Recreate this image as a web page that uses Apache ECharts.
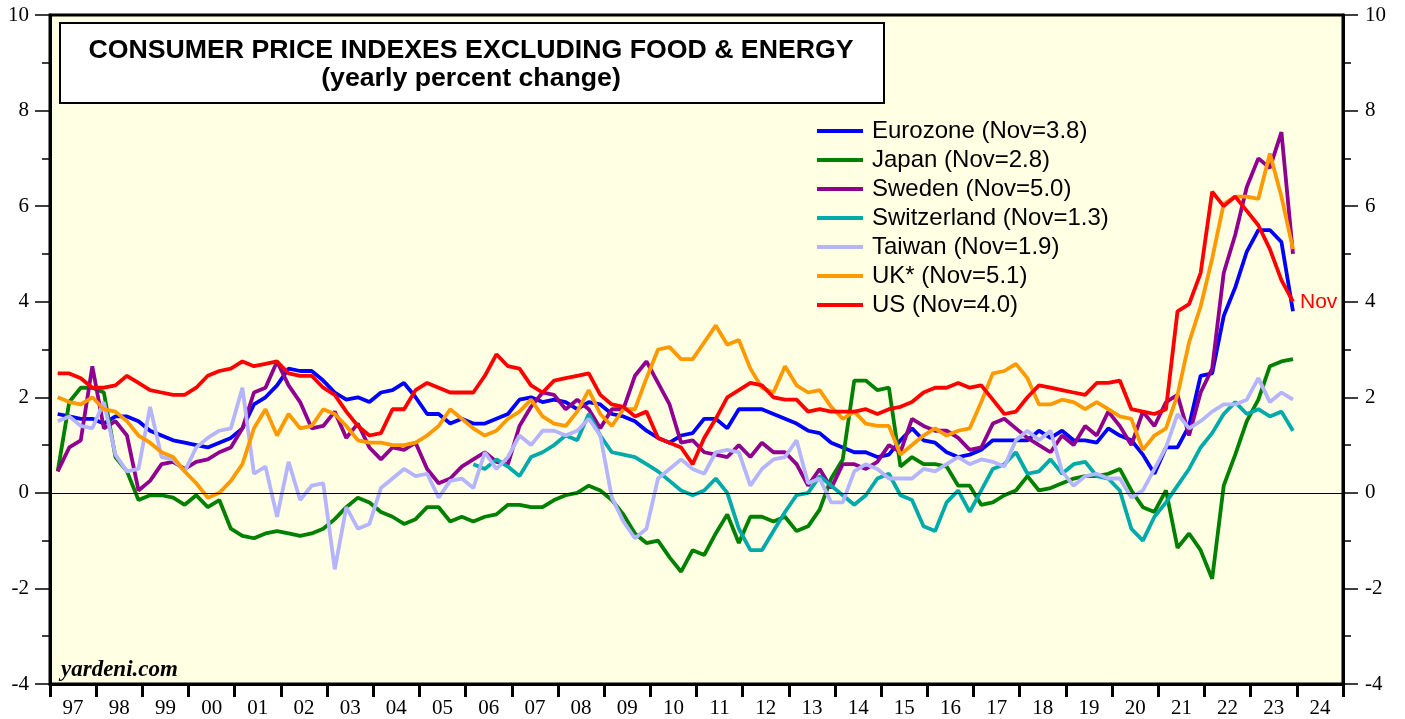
<!DOCTYPE html>
<html lang="en">
  <head>
    <meta charset="utf-8" />
    <title>Consumer price indexes excluding food &amp; energy</title>
    <script src="https://cdn.jsdelivr.net/npm/echarts@6/dist/echarts.min.js"></script>
    <style>
      * {
        margin: 0;
        padding: 0;
      }
      html,
      body,
      #chart {
        width: 100%;
        height: 100%;
        overflow: hidden;
        background: #fff;
      }
    </style>
  </head>
  <body>
    <div id="chart"></div>
    <script>
      // x axis: one band per year, 1997 .. 2024
      var yearLabels = ["97", "98", "99", "00", "01", "02", "03", "04", "05", "06",
        "07", "08", "09", "10", "11", "12", "13", "14", "15", "16",
        "17", "18", "19", "20", "21", "22", "23", "24"];

      // readings every 3 months, Feb 1997 .. Nov 2023 (yearly % change)
      var eurozone = [1.65, 1.6, 1.55, 1.55, 1.45, 1.6, 1.6, 1.5, 1.3, 1.2, 1.1, 1.05, 1.0, 0.95, 1.05, 1.15, 1.35, 1.85, 2.0, 2.25, 2.6, 2.55, 2.55, 2.35, 2.1, 1.95, 2.0, 1.9, 2.1, 2.15, 2.3, 2.0, 1.65, 1.65,
        1.45, 1.55, 1.45, 1.45, 1.55, 1.65, 1.95, 2.0, 1.9, 1.95, 1.9, 1.75, 1.9, 1.85, 1.65, 1.6, 1.5, 1.3, 1.15, 1.05, 1.2, 1.25, 1.55, 1.55, 1.35, 1.75, 1.75, 1.75, 1.65, 1.55, 1.45,
        1.3, 1.25, 1.05, 0.95, 0.85, 0.85, 0.75, 0.8, 1.1, 1.35, 1.1, 1.05, 0.85, 0.75, 0.8, 0.9, 1.1, 1.1, 1.1, 1.1, 1.3, 1.15, 1.3, 1.1, 1.1, 1.05, 1.35, 1.2,
        1.1, 0.8, 0.4, 0.95, 0.95, 1.4, 2.45, 2.5, 3.7, 4.3, 5.05, 5.5, 5.5, 5.25, 3.8];
      var japan = [0.45, 1.9, 2.2, 2.2, 2.1, 0.75, 0.45, -0.15, -0.05, -0.05, -0.1, -0.25, -0.05, -0.3, -0.15, -0.75, -0.9, -0.95, -0.85, -0.8, -0.85, -0.9, -0.85, -0.75, -0.55, -0.3, -0.1, -0.2, -0.4, -0.5, -0.65, -0.55, -0.3, -0.3,
        -0.6, -0.5, -0.6, -0.5, -0.45, -0.25, -0.25, -0.3, -0.3, -0.15, -0.05, 0.0, 0.15, 0.05, -0.15, -0.45, -0.85, -1.05, -1.0, -1.35, -1.65, -1.2, -1.3, -0.85, -0.45, -1.05, -0.5, -0.5, -0.6, -0.5, -0.8,
        -0.7, -0.35, 0.3, 0.7, 2.35, 2.35, 2.15, 2.2, 0.55, 0.75, 0.6, 0.6, 0.55, 0.15, 0.15, -0.25, -0.2, -0.05, 0.05, 0.35, 0.05, 0.1, 0.2, 0.3, 0.35, 0.35, 0.4, 0.5,
        0.05, -0.3, -0.4, 0.05, -1.15, -0.85, -1.2, -1.8, 0.15, 0.8, 1.5, 1.95, 2.65, 2.75, 2.8];
      var sweden = [0.45, 0.95, 1.1, 2.65, 1.35, 1.5, 1.2, 0.05, 0.25, 0.6, 0.65, 0.5, 0.65, 0.7, 0.85, 0.95, 1.35, 2.1, 2.2, 2.75, 2.25, 1.9, 1.35, 1.4, 1.7, 1.15, 1.45, 0.95, 0.7, 0.95, 0.9, 1.05, 0.5, 0.2,
        0.3, 0.55, 0.7, 0.85, 0.65, 0.6, 1.4, 1.8, 2.1, 2.05, 1.75, 1.95, 1.75, 1.35, 1.75, 1.75, 2.45, 2.75, 2.3, 1.85, 1.05, 1.1, 0.85, 0.8, 0.75, 1.0, 0.75, 1.05, 0.85, 0.85, 0.6,
        0.15, 0.5, 0.1, 0.6, 0.6, 0.5, 0.65, 1.0, 0.85, 1.55, 1.4, 1.3, 1.3, 1.15, 0.9, 0.95, 1.45, 1.55, 1.35, 1.15, 1.0, 0.85, 1.2, 1.0, 1.4, 1.2, 1.7, 1.4,
        1.0, 1.7, 1.4, 1.9, 2.05, 1.2, 2.1, 2.6, 4.6, 5.4, 6.4, 7.0, 6.8, 7.55, 5.0];
      // Switzerland starts with the Feb 2006 reading
      var switzerlandStart = 36;
      var switzerland = [0.6, 0.5, 0.7, 0.55, 0.35, 0.75, 0.85, 1.0, 1.2, 1.1, 1.65, 1.2, 0.85, 0.8, 0.75, 0.6, 0.45, 0.25, 0.05, -0.05, 0.05, 0.3, 0.0, -0.75, -1.2, -1.2, -0.8, -0.4, -0.05,
        0.0, 0.35, 0.15, -0.05, -0.25, -0.05, 0.3, 0.4, -0.05, -0.15, -0.7, -0.8, -0.2, 0.05, -0.4, 0.05, 0.5, 0.6, 0.85, 0.4, 0.45, 0.7, 0.4, 0.6, 0.65, 0.35, 0.3, 0.05,
        -0.75, -1.0, -0.5, -0.2, 0.15, 0.5, 0.95, 1.25, 1.65, 1.9, 1.65, 1.75, 1.6, 1.7, 1.3];
      var taiwan = [1.5, 1.6, 1.4, 1.35, 1.9, 0.8, 0.45, 0.5, 1.8, 0.75, 0.7, 0.45, 0.95, 1.15, 1.3, 1.35, 2.2, 0.4, 0.55, -0.5, 0.65, -0.15, 0.15, 0.2, -1.6, -0.3, -0.75, -0.65, 0.1, 0.3, 0.5, 0.35, 0.4, -0.1,
        0.25, 0.3, 0.1, 0.85, 0.5, 0.75, 1.2, 1.0, 1.3, 1.3, 1.2, 1.3, 1.55, 1.2, -0.1, -0.6, -0.95, -0.75, 0.3, 0.5, 0.7, 0.5, 0.4, 0.85, 0.9, 0.85, 0.15, 0.5, 0.7, 0.75, 1.1,
        0.2, 0.3, -0.2, -0.2, 0.45, 0.6, 0.5, 0.3, 0.3, 0.3, 0.5, 0.45, 0.6, 0.75, 0.6, 0.7, 0.65, 0.55, 1.1, 1.3, 1.1, 1.3, 0.45, 0.15, 0.35, 0.4, 0.3, 0.3,
        -0.1, 0.05, 0.5, 0.95, 1.65, 1.35, 1.5, 1.7, 1.85, 1.85, 1.95, 2.4, 1.9, 2.1, 1.95];
      var uk = [2.0, 1.9, 1.85, 2.0, 1.75, 1.7, 1.5, 1.2, 1.05, 0.85, 0.75, 0.45, 0.2, -0.1, 0.0, 0.25, 0.6, 1.35, 1.75, 1.2, 1.65, 1.35, 1.4, 1.75, 1.65, 1.4, 1.1, 1.05, 1.05, 1.0, 1.0, 1.05, 1.2, 1.4,
        1.75, 1.55, 1.35, 1.2, 1.3, 1.55, 1.7, 1.95, 1.6, 1.45, 1.4, 1.7, 2.15, 1.65, 1.4, 1.75, 1.75, 2.4, 3.0, 3.05, 2.8, 2.8, 3.15, 3.5, 3.1, 3.2, 2.6, 2.2, 2.1, 2.65, 2.25,
        2.1, 2.15, 1.8, 1.55, 1.7, 1.45, 1.4, 1.4, 0.8, 1.0, 1.2, 1.35, 1.2, 1.3, 1.35, 1.9, 2.5, 2.55, 2.7, 2.4, 1.85, 1.85, 1.95, 1.9, 1.75, 1.9, 1.75, 1.6,
        1.55, 0.9, 1.2, 1.35, 2.05, 3.15, 3.9, 4.9, 6.05, 6.2, 6.2, 6.15, 7.1, 6.2, 5.1];
      var us = [2.5, 2.5, 2.4, 2.2, 2.2, 2.25, 2.45, 2.3, 2.15, 2.1, 2.05, 2.05, 2.2, 2.45, 2.55, 2.6, 2.75, 2.65, 2.7, 2.75, 2.5, 2.45, 2.45, 2.2, 2.05, 1.7, 1.4, 1.2, 1.25, 1.75, 1.75, 2.15, 2.3, 2.2,
        2.1, 2.1, 2.1, 2.45, 2.9, 2.65, 2.6, 2.25, 2.1, 2.35, 2.4, 2.45, 2.5, 2.05, 1.85, 1.8, 1.6, 1.7, 1.15, 1.05, 0.95, 0.6, 1.15, 1.55, 2.0, 2.15, 2.3, 2.25, 2.0, 1.95, 1.95,
        1.7, 1.75, 1.7, 1.7, 1.7, 1.75, 1.65, 1.75, 1.8, 1.9, 2.1, 2.2, 2.2, 2.3, 2.2, 2.25, 1.95, 1.65, 1.7, 2.0, 2.25, 2.2, 2.15, 2.1, 2.05, 2.3, 2.3, 2.35,
        1.75, 1.7, 1.65, 1.75, 3.8, 3.95, 4.6, 6.3, 6.0, 6.2, 5.9, 5.6, 5.1, 4.45, 4.0];

      var legendNames = ["Eurozone (Nov=3.8)", "Japan (Nov=2.8)", "Sweden (Nov=5.0)",
        "Switzerland (Nov=1.3)", "Taiwan (Nov=1.9)", "UK* (Nov=5.1)", "US (Nov=4.0)"];
      var lineColors = ["#0000FF", "#008000", "#900090", "#00AAAA", "#B4B4FF", "#FF9900", "#FF0000"];

      // quarter index -> fractional year (end of Feb, May, Aug, Nov)
      function toPoints(values, offset) {
        offset = offset || 0;
        return values.map(function (v, i) {
          return [1997 + (2 + 3 * (i + offset)) / 12, v];
        });
      }

      var allData = [
        toPoints(eurozone),
        toPoints(japan),
        toPoints(sweden),
        toPoints(switzerland, switzerlandStart),
        toPoints(taiwan),
        toPoints(uk),
        toPoints(us),
      ];

      var serif = "'Liberation Serif', 'Times New Roman', serif";
      var sans = "'Liberation Sans', Arial, sans-serif";

      var series = allData.map(function (d, k) {
        var s = {
          name: legendNames[k],
          type: "line",
          xAxisIndex: 0,
          yAxisIndex: 0,
          data: d,
          showSymbol: false,
          symbol: "none",
          silent: true,
          lineStyle: { width: 3.8, color: lineColors[k] },
          itemStyle: { color: lineColors[k] },
        };
        if (k === 0) {
          // zero line
          s.markLine = {
            silent: true,
            symbol: "none",
            label: { show: false },
            lineStyle: { color: "#000", width: 1.2, type: "solid" },
            data: [{ yAxis: 0 }],
          };
        }
        if (k === allData.length - 1) {
          s.endLabel = {
            show: true,
            formatter: "Nov",
            color: "#FF0000",
            fontFamily: sans,
            fontSize: 21,
            distance: 7,
          };
        }
        return s;
      });

      function yAxis(pos, margin) {
        return {
          type: "value",
          position: pos,
          min: -4,
          max: 10,
          interval: 2,
          axisLine: { show: true, onZero: false, lineStyle: { color: "#000", width: 3 } },
          axisTick: { show: true, length: 15, lineStyle: { color: "#000", width: 1.5 } },
          minorTick: { show: true, splitNumber: 2, length: 8, lineStyle: { color: "#000", width: 1.5 } },
          axisLabel: { color: "#000", fontFamily: serif, fontSize: 21, margin: margin },
          splitLine: { show: false },
          minorSplitLine: { show: false },
        };
      }

      var chart = echarts.init(document.getElementById("chart"));
      chart.setOption({
        backgroundColor: "#fff",
        animation: false,
        grid: {
          left: 50,
          right: 62,
          top: 15,
          bottom: 32,
          show: true,
          backgroundColor: "#FFFFE3",
          borderColor: "#000",
          borderWidth: 3,
        },
        xAxis: [
          { type: "value", min: 1997, max: 2025, show: false },
          {
            type: "category",
            data: yearLabels,
            position: "bottom",
            boundaryGap: true,
            axisLine: { show: true, onZero: false, lineStyle: { color: "#000", width: 3 } },
            axisTick: { show: true, interval: 0, length: 13, lineStyle: { color: "#000", width: 3 } },
            axisLabel: { interval: 0, color: "#000", fontFamily: serif, fontSize: 21, margin: 14 },
          },
        ],
        yAxis: [yAxis("left", 21), yAxis("right", 22)],
        legend: {
          orient: "vertical",
          left: 812,
          top: 114,
          icon: "rect",
          itemWidth: 46,
          itemHeight: 4,
          itemGap: 5,
          selectedMode: false,
          data: legendNames,
          textStyle: { color: "#000", fontFamily: sans, fontSize: 24, padding: [0, 0, 0, 4] },
        },
        graphic: [
          {
            type: "rect",
            left: 59,
            top: 22,
            shape: { width: 824, height: 80 },
            style: { fill: "#fff", stroke: "#000", lineWidth: 2 },
            z: 10,
          },
          {
            type: "text",
            x: 471,
            y: 37,
            z: 11,
            style: {
              text: "CONSUMER PRICE INDEXES EXCLUDING FOOD & ENERGY",
              font: "bold 26.7px " + sans,
              textAlign: "center",
              fill: "#000",
            },
          },
          {
            type: "text",
            x: 471,
            y: 65,
            z: 11,
            style: {
              text: "(yearly percent change)",
              font: "bold 26.7px " + sans,
              textAlign: "center",
              fill: "#000",
            },
          },
          {
            type: "text",
            left: 61,
            top: 659,
            z: 11,
            style: {
              text: "yardeni.com",
              font: "italic bold 23px " + serif,
              fill: "#000",
            },
          },
        ],
        series: series,
      });
    </script>
  </body>
</html>
